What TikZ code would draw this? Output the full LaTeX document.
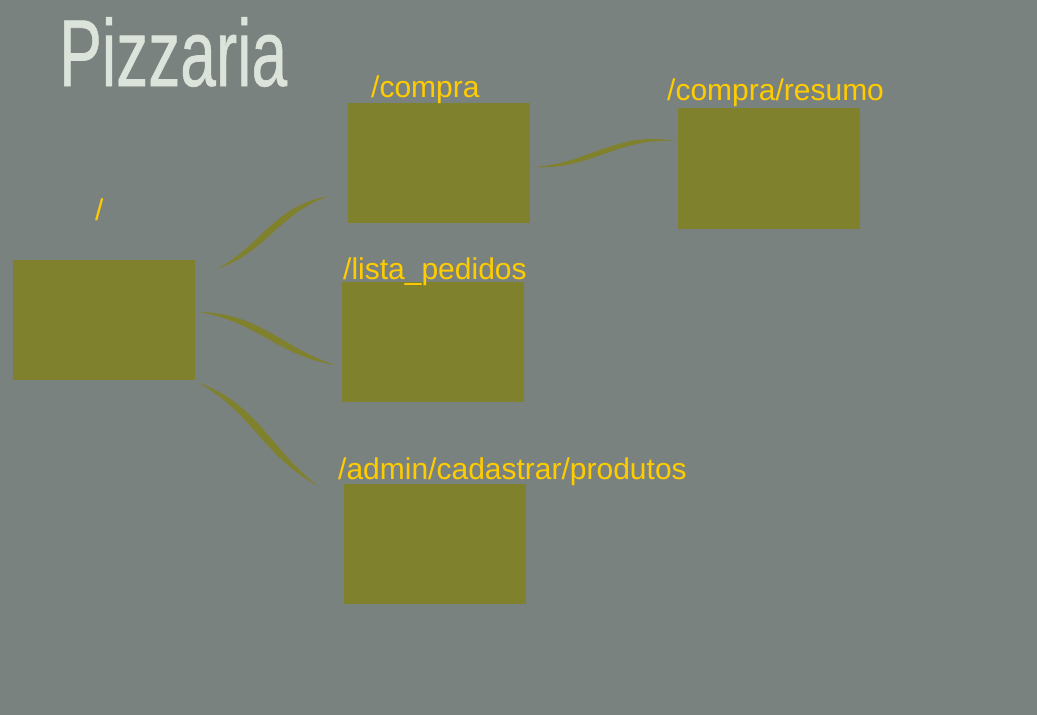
\documentclass[tikz,border=0pt]{standalone}
\usepackage{fontspec}
\setmainfont{Liberation Sans}
\newfontfamily\titlefont[FakeBold=0.7]{Liberation Sans}
\usetikzlibrary{calc, positioning}
\definecolor{cBack}{HTML}{7A8280}
\definecolor{cOlive}{HTML}{7F812D}
\definecolor{cGold}{HTML}{FFCC00}
\definecolor{cPale}{HTML}{DCE3DA}
\tikzset{
  pagebox/.style={
    rectangle, fill=cOlive, minimum width=182pt, minimum height=120pt,
    inner sep=0pt, anchor=north west
  },
  route/.style={font=\fontsize{30}{36}\selectfont, text=cGold,
    anchor=base west, inner sep=0pt},
  heading/.style={font=\titlefont\fontsize{95}{100}\selectfont, text=cPale,
    anchor=base west, inner sep=0pt, xscale=0.675},
  brush/.style={fill=cOlive},
}
% tapered stroke between two points: from, to, bend angle, width
\newcommand\brushline[4]{%
  \fill[brush] (#1) .. controls ($(#1)!0.4!#3:(#2)$) and ($(#2)!0.4!#3:(#1)$) .. (#2)
    .. controls ($(#2)!0.4!#3:(#1) + (#1)!#4!90:(#2) - (#1)$)
            and ($(#1)!0.4!#3:(#2) + (#1)!#4!90:(#2) - (#1)$) .. cycle;}

\begin{document}
\begin{tikzpicture}[x=1pt, y=-1pt]

  % Page background
  \fill[cBack] (0,0) rectangle (1037,715);
  \useasboundingbox (0,0) rectangle (1037,715);

  % Title
  \node[heading] (title) at (59,86) {Pizzaria};

  % Pages
  \node[pagebox] (root)   at (13,260)  {};
  \node[pagebox] (compra) at (348,103) {};
  \node[pagebox] (lista)  at (342,282) {};
  \node[pagebox] (admin)  at (344,484) {};
  \node[pagebox, minimum height=121pt] (resumo) at (678,108) {};

  % Routes
  \node[route] (lroot)   at (95,220)  {/};
  \node[route] (lcompra) at (371,97)  {/compra};
  \node[route] (lresumo) at (667,100) {/compra/resumo};
  \node[route] (llista)  at (343,279) {/lista\_pedidos};
  \node[route] (ladmin)  at (338,479) {/admin/cadastrar/produtos};

  % Stroke ends
  \coordinate (rA) at (217,269);
  \coordinate (cA) at (329,196);
  \coordinate (rB) at (199,312);
  \coordinate (lB) at (335,365);
  \coordinate (rC) at (197,382);
  \coordinate (aC) at (318,486);
  \coordinate (cD) at (533,167);
  \coordinate (sD) at (675,141);

  % Links
  \brushline{rA}{cA}{-14}{9pt}
  \brushline{rB}{lB}{12}{9pt}
  \brushline{rC}{aC}{12}{10pt}
  \brushline{cD}{sD}{-14}{7pt}

\end{tikzpicture}
\end{document}
